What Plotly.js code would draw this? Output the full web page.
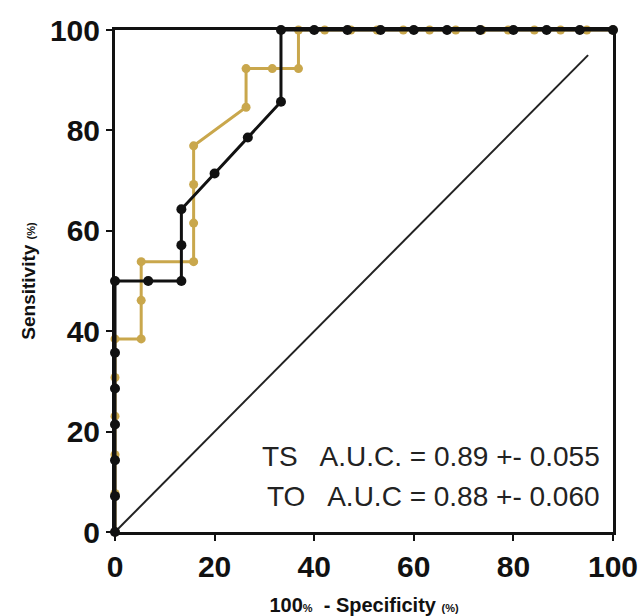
<!DOCTYPE html>
<html>
<head>
<meta charset="utf-8">
<script src="https://cdn.plot.ly/plotly-3.0.1.min.js"></script>
<style>html,body{margin:0;padding:0;background:#fff;}#chart{width:641px;height:616px;}</style>
</head>
<body>
<div id="chart"></div>
<script>
// Black curve (TO): 15 negatives, 14 positives
var toX = [0, 0, 0, 0, 0, 0, 0, 6.67, 13.33, 13.33, 13.33, 20, 26.67, 33.33, 33.33, 40, 46.67, 53.33, 60, 66.67, 73.33, 80, 86.67, 93.33, 100];
var toY = [0, 7.14, 14.29, 21.43, 28.57, 35.71, 50, 50, 50, 57.14, 64.29, 71.43, 78.57, 85.71, 100, 100, 100, 100, 100, 100, 100, 100, 100, 100, 100];
// Gold curve (TS): 19 negatives, 13 positives
var tsX = [0, 0, 0, 0, 0, 0, 5.26, 5.26, 5.26, 15.79, 15.79, 15.79, 15.79, 26.32, 26.32, 31.58, 36.84, 36.84, 42.11, 47.37, 52.63, 57.89, 63.16, 68.42, 73.68, 78.95, 84.21, 89.47, 94.74, 100];
var tsY = [0, 7.69, 15.38, 23.08, 30.77, 38.46, 38.46, 46.15, 53.85, 53.85, 61.54, 69.23, 76.92, 84.62, 92.31, 92.31, 92.31, 100, 100, 100, 100, 100, 100, 100, 100, 100, 100, 100, 100, 100];
var refX = [0, 95];
var refY = [0, 95];
var tickVals = [0, 20, 40, 60, 80, 100];
var tickText = ['0', '20', '40', '60', '80', '100'];
var labelTS = 'TS&nbsp;&nbsp; A.U.C. = 0.89 +- 0.055';
var labelTO = 'TO&nbsp;&nbsp; A.U.C = 0.88 +- 0.060';

var gold = '#c9a74c';
var traces = [
  {x: refX, y: refY, mode: 'lines', line: {color: '#222', width: 2}, hoverinfo: 'skip', showlegend: false},
  {x: tsX, y: tsY, mode: 'lines+markers', line: {color: gold, width: 3}, marker: {color: gold, size: 9}, cliponaxis: false, showlegend: false},
  {x: toX, y: toY, mode: 'lines+markers', line: {color: '#111', width: 3}, marker: {color: '#111', size: 10}, cliponaxis: false, showlegend: false}
];

var fam = 'Liberation Sans, Arial, Helvetica, sans-serif';
var axisFont = {family: fam, size: 30, color: '#111', weight: 'bold'};
var layout = {
  width: 641, height: 616,
  margin: {l: 115, r: 28, t: 30, b: 84},
  paper_bgcolor: '#fff', plot_bgcolor: '#fff',
  xaxis: {
    range: [0, 100], tickvals: tickVals, ticktext: tickText,
    showgrid: false, zeroline: false, showline: true, linecolor: '#111', linewidth: 3, mirror: true,
    ticks: 'outside', ticklen: 6, tickwidth: 2, tickcolor: '#111',
    tickfont: axisFont,
    title: {text: '<b>100<span style="font-size:11px">%</span>  - Specificity <span style="font-size:11px">(%)</span></b>', font: {family: fam, size: 20, color: '#111'}, standoff: 20}
  },
  yaxis: {
    range: [0, 100], tickvals: tickVals, ticktext: tickText,
    showgrid: false, zeroline: false, showline: true, linecolor: '#111', linewidth: 3, mirror: true,
    ticks: 'outside', ticklen: 6, tickwidth: 2, tickcolor: '#111',
    tickfont: axisFont,
    title: {text: '<b>Sensitivity <span style="font-size:11px">(%)</span></b>', font: {family: fam, size: 19, color: '#111'}, standoff: 10}
  },
  annotations: [
    {x: 0.978, y: 0.151, xref: 'paper', yref: 'paper', xanchor: 'right', yanchor: 'middle', text: labelTS, showarrow: false, font: {family: fam, size: 28, color: '#222'}},
    {x: 0.978, y: 0.070, xref: 'paper', yref: 'paper', xanchor: 'right', yanchor: 'middle', text: labelTO, showarrow: false, font: {family: fam, size: 28, color: '#222'}}
  ]
};
Plotly.newPlot('chart', traces, layout, {displayModeBar: false, staticPlot: true});
</script>
</body>
</html>
